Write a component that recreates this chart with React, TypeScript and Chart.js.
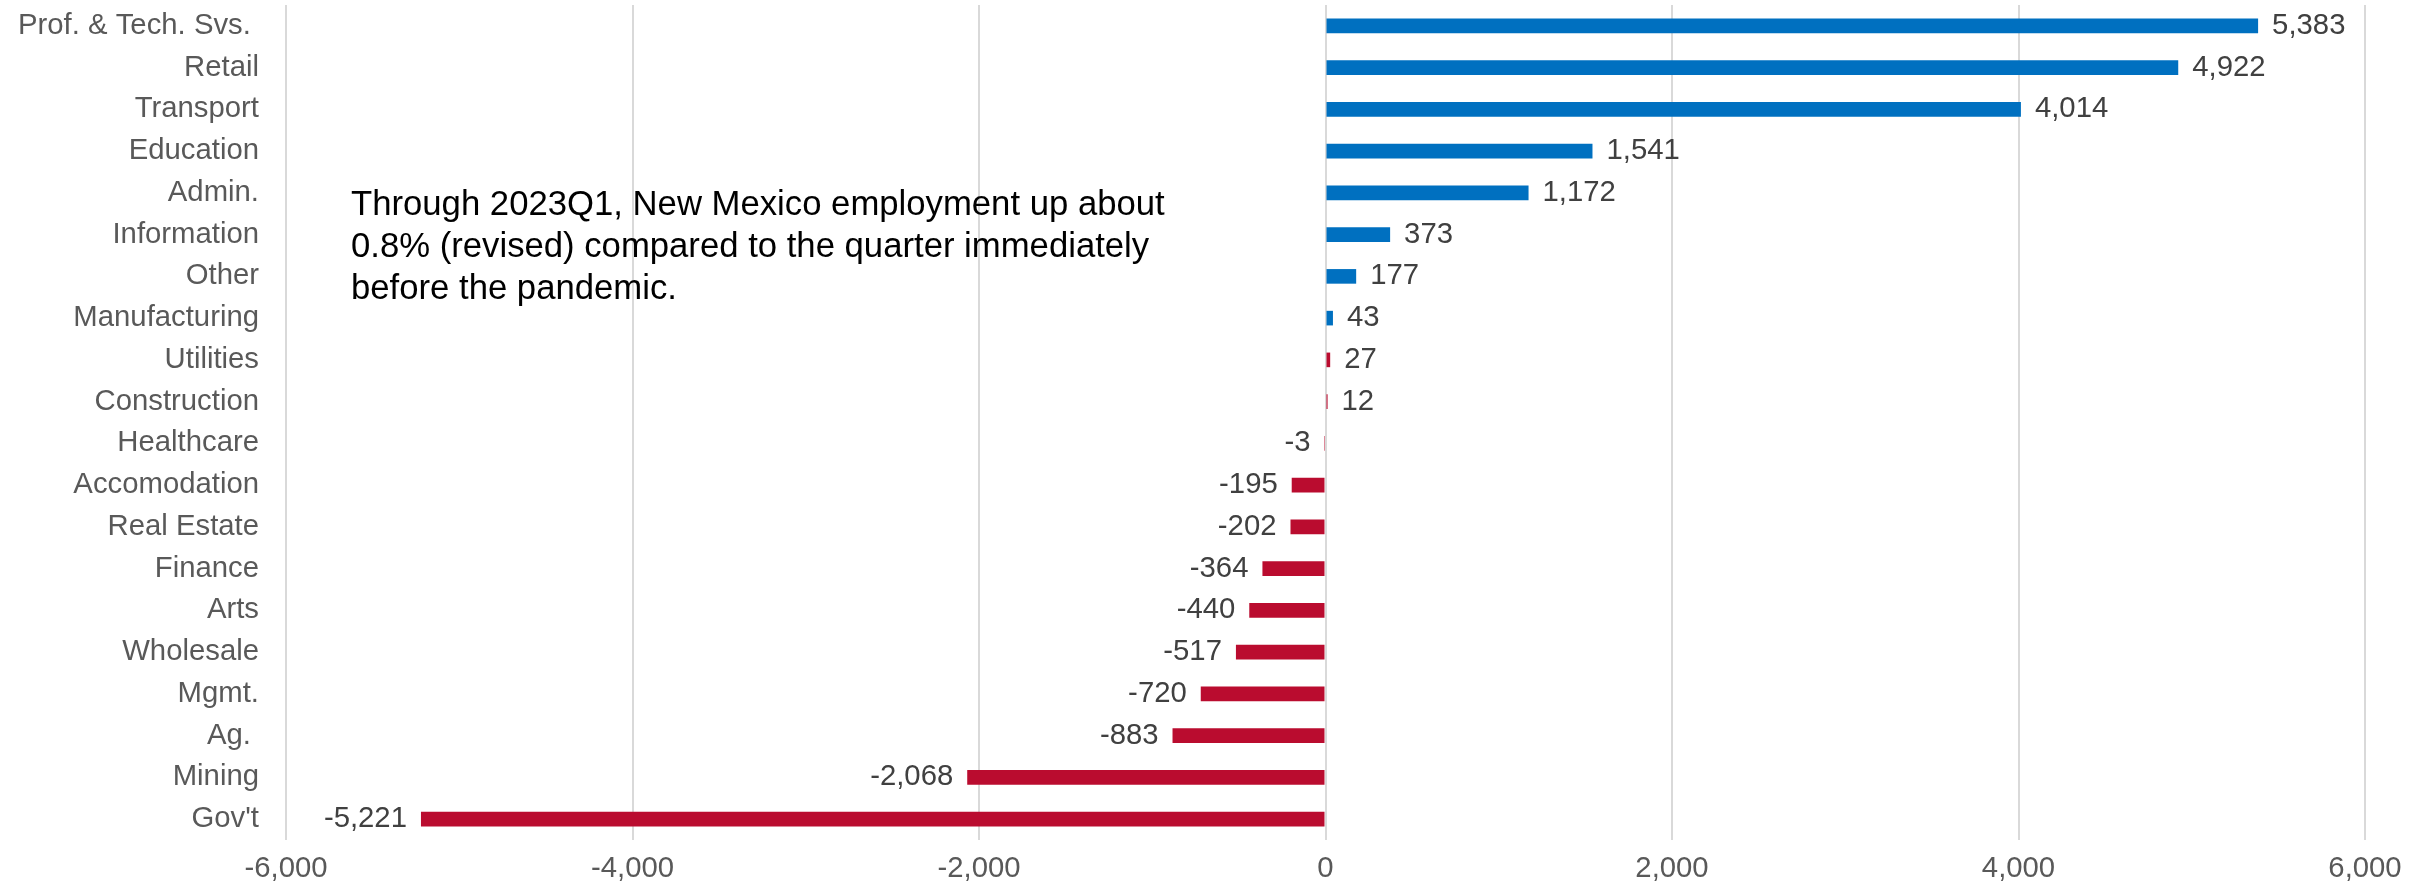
import React, { useEffect, useRef } from "react";
import { Chart, registerables } from "chart.js";

Chart.register(...registerables);

const categories = [
  "Prof. & Tech. Svs. ",
  "Retail",
  "Transport",
  "Education",
  "Admin.",
  "Information",
  "Other",
  "Manufacturing",
  "Utilities",
  "Construction",
  "Healthcare",
  "Accomodation",
  "Real Estate",
  "Finance",
  "Arts",
  "Wholesale",
  "Mgmt.",
  "Ag. ",
  "Mining",
  "Gov't",
];

const values = [
  5383, 4922, 4014, 1541, 1172, 373, 177, 43, 27, 12, -3, -195, -202, -364, -440, -517, -720, -883, -2068, -5221,
];

const BLUE = "#0070C0";
const RED = "#BA0C2F";
const barColors = [
  BLUE, BLUE, BLUE, BLUE, BLUE, BLUE, BLUE, BLUE, RED, RED,
  RED, RED, RED, RED, RED, RED, RED, RED, RED, RED,
];

const xTicks = [-6000, -4000, -2000, 0, 2000, 4000, 6000];

const annotationLines = [
  "Through 2023Q1, New Mexico employment up about",
  "0.8% (revised) compared to the quarter immediately",
  "before the pandemic.",
];

const FONT = "'Liberation Sans', Arial, Helvetica, sans-serif";
const fmt = (v: number) => v.toLocaleString("en-US");

const valueLabelPlugin = {
  id: "valueLabels",
  afterDatasetsDraw(chart: any) {
    const ctx = chart.ctx;
    const meta = chart.getDatasetMeta(0);
    ctx.save();
    ctx.font = `29.3px ${FONT}`;
    ctx.fillStyle = "#404040";
    ctx.textBaseline = "middle";
    meta.data.forEach((bar: any, i: number) => {
      const v = values[i];
      const base = bar.base;
      if (v >= 0) {
        ctx.textAlign = "left";
        ctx.fillText(fmt(v), Math.max(bar.x, base) + 14, bar.y);
      } else {
        ctx.textAlign = "right";
        ctx.fillText(fmt(v), Math.min(bar.x, base) - 14, bar.y);
      }
    });
    ctx.restore();
  },
};

const annotationPlugin = {
  id: "annotationText",
  afterDraw(chart: any) {
    const ctx = chart.ctx;
    const { left, top } = chart.chartArea;
    ctx.save();
    ctx.font = `34.7px ${FONT}`;
    ctx.fillStyle = "#000000";
    ctx.textAlign = "left";
    ctx.textBaseline = "middle";
    annotationLines.forEach((line, i) => {
      ctx.fillText(line, left + 65, top + 200 + i * 42);
    });
    ctx.restore();
  },
};

export default function App() {
  const canvasRef = useRef<HTMLCanvasElement | null>(null);

  useEffect(() => {
    if (!canvasRef.current) return;
    const chart = new Chart(canvasRef.current, {
      type: "bar",
      data: {
        labels: categories,
        datasets: [
          {
            data: values,
            backgroundColor: barColors,
            borderWidth: 0,
            barPercentage: 0.35,
            categoryPercentage: 1,
          },
        ],
      },
      options: {
        indexAxis: "y",
        responsive: true,
        maintainAspectRatio: false,
        animation: false,
        layout: { padding: { left: 0, right: 70, top: 5, bottom: 0 } },
        plugins: {
          legend: { display: false },
          tooltip: { enabled: false },
          title: { display: false },
        },
        scales: {
          x: {
            type: "linear",
            min: -6000,
            max: 6000,
            afterBuildTicks: (scale: any) => {
              scale.ticks = xTicks.map((v) => ({ value: v }));
            },
            afterFit: (scale: any) => {
              scale.height = 52;
            },
            grid: {
              display: true,
              color: "#D9D9D9",
              lineWidth: 2,
              drawTicks: false,
              tickLength: 0,
            },
            border: { display: false },
            ticks: {
              padding: 11,
              color: "#595959",
              font: { family: FONT, size: 29.3 },
              callback: (v: any) => fmt(Number(v)),
            },
          },
          y: {
            type: "category",
            afterFit: (scale: any) => {
              scale.width = 286;
              scale.paddingTop = 0;
              scale.paddingBottom = 0;
            },
            grid: { display: false, drawTicks: false, tickLength: 0 },
            border: { display: false },
            ticks: {
              padding: 27,
              color: "#595959",
              font: { family: FONT, size: 29.3 },
              autoSkip: false,
            },
          },
        },
      },
      plugins: [valueLabelPlugin, annotationPlugin],
    } as any);
    return () => chart.destroy();
  }, []);

  return (
    <div style={{ position: "absolute", left: 0, top: 0, width: 2435, height: 892, background: "#ffffff" }}>
      <canvas ref={canvasRef} />
    </div>
  );
}
